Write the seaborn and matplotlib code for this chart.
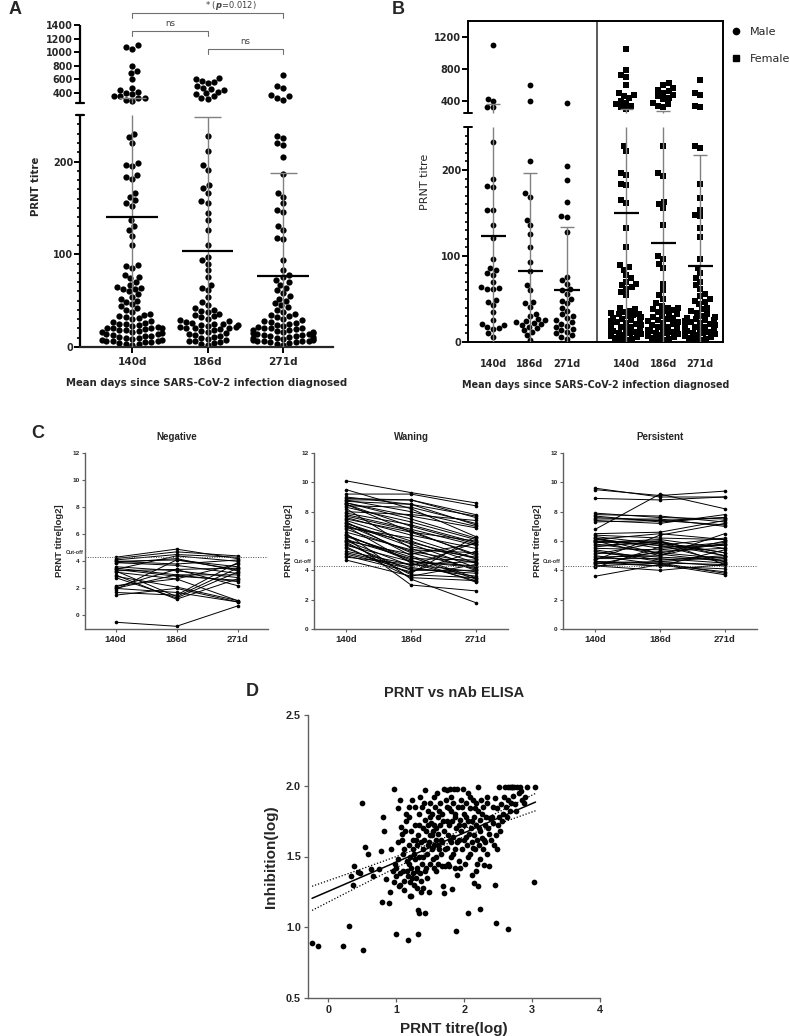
import warnings

import numpy as np
import pandas as pd
import matplotlib
matplotlib.use('Agg')
from matplotlib import pyplot as plt
from matplotlib.lines import Line2D
from matplotlib.ticker import FixedLocator, FormatStrFormatter
from matplotlib.transforms import blended_transform_factory
import seaborn as sns

warnings.filterwarnings('ignore')

days = ['140d', '186d', '271d']

# Panel A: PRNT titres of all participants
a_140 = [1100, 1080, 1050, 800, 720, 690, 600, 480, 450, 420, 400, 380, 360, 350, 330, 320, 300, 280,
         230, 226, 220, 198, 196, 195, 185, 183, 181, 166, 162, 158, 155, 152, 137, 131, 126, 120, 110,
         88, 87, 85, 78, 76, 74, 70, 67, 65, 64, 63, 62, 60, 57, 54, 52, 50, 48, 46, 44, 42, 40, 38,
         36, 35, 33, 32, 31, 30, 28, 27, 26, 25, 25, 24, 23, 22, 21, 20, 20, 20, 19, 18, 18, 17, 16,
         16, 15, 14, 14, 13, 12, 12, 11, 10, 10, 9, 8, 8, 7, 6, 6, 5, 5, 4, 3, 3, 2]
a_186 = [620, 600, 580, 560, 540, 500, 480, 460, 440, 420, 400, 380, 350, 330, 310,
         227, 211, 196, 191, 175, 171, 166, 157, 155, 144, 137, 126, 110, 97, 94, 90, 83, 76, 67, 64,
         61, 54, 49, 45, 42, 40, 39, 38, 36, 35, 33, 32, 30, 29, 28, 27, 26, 25, 25, 24, 24, 23, 22,
         22, 21, 20, 20, 19, 18, 17, 16, 15, 14, 13, 12, 11, 10, 9, 8, 7, 6, 5, 4, 3, 2]
a_271 = [660, 500, 480, 370, 350, 320, 300,
         227, 225, 220, 218, 205, 187, 166, 162, 155, 148, 146, 130, 126, 117, 116, 94, 83, 78, 76,
         72, 70, 67, 64, 61, 58, 55, 52, 50, 47, 45, 43, 40, 38, 36, 35, 33, 32, 30, 29, 28, 27, 26,
         25, 24, 23, 22, 21, 20, 20, 19, 18, 18, 17, 16, 16, 15, 15, 14, 14, 13, 13, 12, 12, 11, 11,
         10, 10, 9, 9, 8, 8, 7, 7, 6, 6, 5, 5, 4, 3, 2]
a_mean = [140, 103, 77]
a_sd_top = [330, 248, 188]

# Panel B: split by sex
b_male_140 = [1100, 430, 400, 330, 320, 232, 189, 181, 180, 154, 153, 136, 121, 97, 86, 84, 80, 78,
              70, 64, 63, 62, 62, 49, 47, 43, 35, 25, 21, 20, 17, 16, 15, 10, 6]
b_male_186 = [600, 400, 211, 173, 169, 142, 136, 125, 111, 93, 82, 66, 60, 47, 45, 41, 33, 30, 27,
              25, 24, 23, 22, 21, 20, 18, 16, 14, 12, 8, 2]
b_male_271 = [380, 205, 188, 163, 147, 145, 128, 76, 72, 68, 62, 60, 56, 50, 48, 45, 39, 36, 32,
              30, 28, 25, 23, 21, 19, 17, 15, 14, 12, 10, 8, 6, 4]
b_female_140 = [1050, 790, 720, 700, 600, 500, 480, 460, 440, 400, 380, 360, 340, 320, 300, 228,
                222, 196, 194, 184, 182, 165, 162, 132, 111, 89, 87, 84, 78, 74, 70, 68, 66, 64, 62,
                58, 55, 40, 38, 36, 35, 34, 33, 32, 31, 30, 29, 28, 27, 26, 25, 24, 23, 22, 21, 20,
                19, 18, 17, 16, 15, 14, 13, 12, 11, 10, 9, 8, 7, 6, 5, 4, 3, 2]
b_female_186 = [620, 600, 560, 540, 520, 500, 480, 460, 440, 420, 380, 360, 340, 320, 228, 196,
                193, 163, 160, 156, 136, 100, 97, 91, 86, 68, 60, 55, 50, 45, 42, 40, 39, 38, 37,
                36, 35, 33, 32, 30, 29, 28, 27, 25, 24, 23, 22, 21, 20, 18, 17, 16, 15, 14, 13, 12,
                11, 10, 9, 8, 7, 6, 5, 4, 3, 2]
b_female_271 = [660, 500, 480, 340, 320, 228, 226, 184, 167, 154, 148, 146, 132, 122, 96, 86, 80,
                74, 70, 66, 62, 56, 53, 50, 48, 46, 44, 40, 38, 36, 34, 32, 30, 29, 28, 27, 26, 25,
                24, 23, 22, 21, 20, 19, 18, 17, 16, 15, 14, 13, 12, 11, 10, 9, 8, 7, 6, 5, 4, 3, 2]
b_male_mean = [123, 82, 61]
b_male_top = [360, 197, 134]
b_female_mean = [150, 115, 88]
b_female_top = [300, 280, 217]

# Panel C: log2 titres per participant
neg_140 = [4.3, 4.2, 4.1, 4.0, 3.9, 3.9, 3.5, 3.4, 3.4, 3.3, 3.2, 3.0, 2.8, 2.2, 2.1, 2.0, 1.9, 1.7,
           1.5, -0.5, 4.0, 3.6, 3.3, 2.9, 2.0]
neg_186 = [4.9, 4.7, 4.5, 4.1, 4.2, 3.7, 3.0, 2.9, 4.4, 3.4, 2.7, 1.2, 1.3, 2.7, 3.4, 1.7, 4.1, 1.5,
           2.0, -0.8, 3.8, 3.3, 1.4, 2.1, 3.0]
neg_271 = [4.2, 4.4, 4.3, 3.6, 3.3, 3.1, 2.5, 2.6, 4.0, 3.5, 1.1, 2.7, 3.2, 3.8, 2.2, 1.0, 3.4, 3.9,
           1.0, 0.7, 4.1, 2.8, 3.5, 1.1, 3.0]
wan_140 = [10.1, 9.5, 9.2, 8.9, 8.8, 8.7, 8.6, 8.5, 8.5, 8.4, 8.2, 8.0, 7.9, 7.7, 7.5, 7.4, 7.3, 7.2,
           7.1, 7.0, 6.9, 6.5, 6.4, 6.3, 6.2, 6.0, 5.9, 5.7, 5.5, 5.3, 5.2, 5.0, 4.7, 8.3, 7.6, 6.1,
           5.8, 7.2, 8.8, 6.6, 9.0, 8.6, 7.8, 7.0, 6.8, 6.4, 6.0, 5.6, 5.1, 4.9]
wan_186 = [9.3, 8.2, 9.2, 8.8, 8.0, 8.5, 7.5, 7.0, 6.6, 8.3, 5.5, 7.8, 7.1, 6.7, 6.6, 6.0, 5.0, 5.8,
           5.2, 4.5, 6.2, 3.4, 4.7, 4.9, 3.0, 4.3, 3.7, 4.6, 3.8, 4.4, 4.2, 3.9, 3.6, 7.3, 6.4, 4.8,
           4.0, 5.6, 8.8, 5.4, 8.5, 7.7, 6.8, 5.9, 5.3, 4.6, 5.1, 3.5, 4.1, 4.4]
wan_271 = [8.6, 6.3, 8.4, 7.6, 7.0, 7.7, 6.2, 5.8, 5.1, 7.2, 4.0, 7.4, 5.9, 5.0, 6.0, 4.5, 3.5, 4.2,
           4.1, 3.3, 4.8, 1.8, 3.2, 3.4, 2.6, 5.9, 3.5, 4.3, 6.3, 3.9, 3.6, 5.3, 4.4, 6.1, 5.5, 4.7,
           4.0, 4.9, 7.8, 5.2, 7.1, 6.9, 5.7, 4.8, 4.5, 4.2, 5.8, 3.3, 3.8, 4.6]
per_140 = [9.6, 9.5, 8.9, 7.8, 7.7, 7.6, 7.5, 7.4, 6.8, 6.5, 6.3, 6.2, 6.1, 6.0, 5.9, 5.8, 5.6, 5.5,
           5.3, 5.1, 5.0, 4.9, 4.8, 4.7, 4.6, 4.5, 4.4, 4.3, 4.2, 3.6, 6.2, 5.4, 4.6, 6.0,
           7.9, 6.4, 5.7, 5.2, 4.8, 4.5, 6.1, 5.9, 4.3, 7.3]
per_186 = [9.0, 9.1, 8.8, 7.7, 7.3, 7.4, 7.5, 7.2, 9.2, 6.6, 5.8, 5.5, 6.5, 5.7, 6.1, 5.2, 6.0, 5.4,
           4.6, 5.9, 4.4, 5.0, 4.8, 6.4, 4.5, 4.6, 5.3, 4.0, 5.6, 4.4, 5.1, 4.7, 4.3, 5.0,
           7.6, 6.2, 5.9, 4.9, 5.2, 4.3, 5.7, 6.0, 4.5, 7.4]
per_271 = [9.0, 9.4, 9.0, 7.3, 7.6, 7.1, 7.0, 7.8, 8.2, 7.4, 5.0, 5.9, 6.1, 4.6, 5.5, 4.8, 4.4, 5.8,
           4.3, 5.2, 3.9, 6.5, 4.5, 7.2, 3.8, 4.9, 5.5, 4.4, 5.7, 3.7, 4.6, 5.0, 5.4, 6.0,
           7.5, 6.1, 5.2, 4.7, 5.8, 4.1, 6.2, 5.0, 4.4, 7.6]
cutoff = 4.3

# Panel D: PRNT titre (log) vs inhibition (log)
d_pairs = [
    (-0.24, 0.89), (-0.16, 0.87), (0.21, 0.87), (0.30, 1.01), (0.51, 0.84), (0.49, 1.88), (0.54, 1.57),
    (0.59, 1.52), (0.63, 1.41), (0.65, 1.36), (0.33, 1.36), (0.36, 1.30), (0.38, 1.43), (0.43, 1.39),
    (0.46, 1.38), (0.75, 1.41), (0.80, 1.78), (0.82, 1.68), (0.78, 1.54), (0.79, 1.18), (0.85, 1.34),
    (0.90, 1.17), (0.91, 1.25), (0.96, 1.98), (0.99, 0.95), (1.17, 0.91), (1.32, 0.95), (1.33, 1.10),
    (1.42, 1.10), (1.20, 1.22), (2.23, 1.13), (2.06, 1.10), (1.88, 0.97), (2.45, 1.30), (2.47, 1.03),
    (2.65, 0.99), (3.03, 1.32), (3.05, 1.99),
    (0.92, 1.55), (0.95, 1.40), (0.97, 1.32), (0.98, 1.45), (1.00, 1.42), (1.00, 1.36), (1.02, 1.48),
    (1.02, 1.84), (1.04, 1.29), (1.05, 1.90), (1.05, 1.38), (1.07, 1.71), (1.08, 1.62), (1.09, 1.66),
    (1.10, 1.40), (1.10, 1.52), (1.12, 1.33), (1.12, 1.26),
    (1.14, 1.80), (1.15, 1.75), (1.16, 1.47), (1.17, 1.36), (1.18, 1.78), (1.18, 1.58), (1.19, 1.45),
    (1.20, 1.32), (1.20, 1.50), (1.21, 1.22), (1.22, 1.68), (1.22, 1.42), (1.23, 1.90), (1.24, 1.55),
    (1.25, 1.38), (1.25, 1.62), (1.26, 1.30), (1.27, 1.85), (1.28, 1.48), (1.28, 1.72), (1.29, 1.35),
    (1.30, 1.58), (1.30, 1.42), (1.31, 1.28), (1.32, 1.65), (1.32, 1.12),
    (1.33, 1.80), (1.34, 1.50), (1.35, 1.38), (1.35, 1.92), (1.36, 1.60), (1.37, 1.33), (1.38, 1.45),
    (1.38, 1.85), (1.39, 1.70), (1.40, 1.55), (1.40, 1.28), (1.41, 1.62), (1.42, 1.40), (1.42, 1.76),
    (1.43, 1.97), (1.44, 1.68), (1.45, 1.52), (1.45, 1.35), (1.46, 1.82), (1.47, 1.72), (1.48, 1.25),
    (1.48, 1.60), (1.49, 1.45), (1.50, 1.65), (1.50, 1.88),
    (1.51, 1.74), (1.52, 1.55), (1.53, 1.80), (1.54, 1.68), (1.55, 1.42), (1.55, 1.92), (1.56, 1.58),
    (1.57, 1.85), (1.58, 1.70), (1.58, 1.50), (1.59, 1.62), (1.60, 1.95), (1.61, 1.78), (1.62, 1.45),
    (1.62, 1.66), (1.63, 1.55), (1.64, 1.88), (1.65, 1.72), (1.66, 1.52), (1.67, 1.43), (1.68, 1.80),
    (1.68, 1.60), (1.69, 1.29), (1.70, 1.98), (1.70, 1.24),
    (1.71, 1.68), (1.72, 1.43), (1.73, 1.90), (1.74, 1.75), (1.75, 1.56), (1.75, 1.97), (1.76, 1.65),
    (1.77, 1.84), (1.78, 1.43), (1.78, 1.72), (1.79, 1.98), (1.80, 1.60), (1.80, 1.82), (1.81, 1.50),
    (1.82, 1.75), (1.82, 1.27), (1.83, 1.88), (1.84, 1.64), (1.85, 1.98), (1.86, 1.42), (1.86, 1.78),
    (1.87, 1.55), (1.88, 1.70), (1.89, 1.37), (1.90, 1.98),
    (1.91, 1.85), (1.92, 1.62), (1.93, 1.47), (1.94, 1.76), (1.95, 1.90), (1.96, 1.68), (1.97, 1.55),
    (1.98, 1.98), (1.99, 1.80), (2.00, 1.72), (2.01, 1.45), (2.02, 1.64), (2.03, 1.88), (2.04, 1.58),
    (2.05, 1.75), (2.06, 1.95), (2.07, 1.66), (2.08, 1.52), (2.09, 1.84), (2.10, 1.70),
    (2.11, 1.60), (2.12, 1.37), (2.13, 1.90), (2.14, 1.78), (2.14, 1.31), (2.15, 1.65), (2.16, 1.55),
    (2.17, 1.88), (2.17, 1.40), (2.18, 1.72), (2.19, 1.62), (2.20, 1.99), (2.20, 1.29), (2.21, 1.82),
    (2.22, 1.58), (2.23, 1.68), (2.24, 1.76), (2.24, 1.48), (2.25, 1.90), (2.26, 1.63), (2.27, 1.55),
    (2.28, 1.85), (2.29, 1.44), (2.30, 1.72),
    (2.31, 1.60), (2.32, 1.78), (2.33, 1.52), (2.34, 1.88), (2.35, 1.70), (2.36, 1.43), (2.38, 1.77),
    (2.40, 1.62), (2.42, 1.85), (2.43, 1.74), (2.45, 1.91), (2.47, 1.65), (2.48, 1.55), (2.50, 1.72),
    (2.51, 1.99), (2.52, 1.78), (2.54, 1.87), (2.55, 1.75), (2.57, 1.80),
    (2.60, 1.99), (2.62, 1.85), (2.64, 1.99), (2.65, 1.90), (2.67, 1.99), (2.68, 1.82), (2.70, 1.99),
    (2.72, 1.93), (2.74, 1.99), (2.75, 1.87), (2.78, 1.99), (2.80, 1.95), (2.82, 1.99), (2.85, 1.90),
    (2.88, 1.88), (2.90, 1.92),
    (1.03, 1.60), (1.06, 1.30), (1.11, 1.55), (1.13, 1.68), (1.16, 1.40), (1.19, 1.85), (1.23, 1.35),
    (1.26, 1.52), (1.29, 1.62), (1.31, 1.40), (1.34, 1.72), (1.36, 1.25), (1.39, 1.50), (1.41, 1.88),
    (1.44, 1.42), (1.46, 1.58), (1.49, 1.78), (1.52, 1.65), (1.54, 1.48), (1.56, 1.72), (1.59, 1.40),
    (1.61, 1.58), (1.63, 1.82), (1.66, 1.62), (1.69, 1.75), (1.72, 1.55), (1.74, 1.85), (1.76, 1.45),
    (1.79, 1.62), (1.81, 1.92), (1.84, 1.52), (1.87, 1.80), (1.89, 1.60), (1.92, 1.72), (1.94, 1.42),
    (1.97, 1.85), (1.99, 1.62), (2.02, 1.78), (2.05, 1.50), (2.08, 1.92), (2.11, 1.75), (2.13, 1.56),
    (2.16, 1.84), (2.19, 1.45), (2.22, 1.70), (2.26, 1.80), (2.29, 1.62), (2.33, 1.92), (2.37, 1.66),
    (2.41, 1.78), (2.44, 1.58), (2.49, 1.84), (2.53, 1.68), (2.58, 1.92), (2.63, 1.78), (2.69, 1.88),
    (2.76, 1.82), (2.84, 1.96), (2.93, 1.99), (2.71, 1.99),
]

sns.set_theme(style='ticks')
plt.rcParams['font.family'] = ['DejaVu Sans']
plt.rcParams['font.weight'] = 'bold'
plt.rcParams['axes.labelweight'] = 'bold'
plt.rcParams['axes.titleweight'] = 'bold'
plt.rcParams['mathtext.default'] = 'it'
ARIAL = ['Liberation Sans', 'DejaVu Sans']

W, H = 790, 1036
fig = plt.figure(figsize=(W / 100, H / 100), dpi=100)


def box(l, t, r, b):
    return [l / W, 1 - b / H, (r - l) / W, (b - t) / H]


def broken_scale(top, gap, k):
    def fwd(y):
        y = np.asarray(y, dtype=float)
        return np.where(y <= top, y, top + gap + (y - top) * k)

    def inv(u):
        u = np.asarray(u, dtype=float)
        return np.where(u <= top, u, top + np.maximum(u - top - gap, 0) / k)
    return fwd, inv


def broken_spine(ax, top, ymax, lw, cap=0.016):
    ax.spines['left'].set_visible(False)
    tr = ax.get_yaxis_transform()
    for y0, y1 in [(0, top), (top + 1e-3, ymax)]:
        ax.plot([0, 0], [y0, y1], transform=tr, color='black', lw=lw, clip_on=False,
                solid_capstyle='butt')
    for y in [top, top + 1e-3]:
        ax.plot([-cap, cap], [y, y], transform=tr, color='black', lw=lw, clip_on=False)


def mean_sd(ax, xs, means, tops, top=250, half_mean=0.34, half_cap=0.18):
    for x, m, t in zip(xs, means, tops):
        ax.vlines(x, 0, min(t, top), color='#808080', lw=1, zorder=3)
        if t > top:
            ax.vlines(x, top + 1e-3, t, color='#808080', lw=1, zorder=3)
        ax.hlines(t, x - half_cap, x + half_cap, color='#808080', lw=1, zorder=3)
        ax.hlines(m, x - half_mean, x + half_mean, color='black', lw=1.6, zorder=4)


def set_minor(ax, top):
    ax.yaxis.set_minor_locator(FixedLocator([v for v in range(10, top + 1, 10) if v % 100]))


# ---------------- Panel A ----------------
axA = fig.add_axes(box(80, 25, 333, 347))
axA.set_yscale('function', functions=broken_scale(250, 12.9, 0.0733))
axA.set_ylim(0, 1400)
dfA = pd.DataFrame({'day': np.repeat(days, [len(a_140), len(a_186), len(a_271)]),
                    'titre': a_140 + a_186 + a_271})
sns.swarmplot(data=dfA, x='day', y='titre', order=days, color='black', size=4.5,
              linewidth=0, ax=axA, zorder=2)
mean_sd(axA, [0, 1, 2], a_mean, a_sd_top)
axA.set_ylim(0, 1400)
axA.set_xlim(-0.69, 2.66)
axA.set_yticks([0, 100, 200, 400, 600, 800, 1000, 1200, 1400])
set_minor(axA, 250)
sns.despine(ax=axA)
axA.spines['bottom'].set_linewidth(1.6)
broken_spine(axA, 250, 1400, 1.6)
axA.tick_params(axis='y', which='major', length=4, width=1.4, pad=1, labelsize=6.9, color='black')
axA.tick_params(axis='y', which='minor', length=2.5, width=1.2, color='black')
axA.tick_params(axis='x', length=4, width=1.4, pad=3, labelsize=7.6, color='black')
axA.set_ylabel('PRNT titre', fontsize=7.3, labelpad=4)
axA.set_xlabel('Mean days since SARS-CoV-2 infection diagnosed', fontsize=7.3, labelpad=8)

trA = blended_transform_factory(axA.transData, fig.transFigure)
for x0, x1, ypx in [(0, 2, 13), (0, 1, 31), (1, 2, 49)]:
    y, yt = 1 - ypx / H, 1 - (ypx + 5) / H
    axA.plot([x0, x0, x1, x1], [yt, y, y, yt], transform=trA, color='#707070', lw=0.8,
             clip_on=False)
axA.text(0.97, 1 - 6 / H, '* ($p$=0.012)', transform=trA, ha='left', va='center', fontsize=6,
         color='#404040', fontweight='normal')
axA.text(0.5, 1 - 23 / H, 'ns', transform=trA, ha='center', va='center', fontsize=6.2,
         color='#404040', fontweight='normal')
axA.text(1.5, 1 - 42 / H, 'ns', transform=trA, ha='center', va='center', fontsize=6.2,
         color='#404040', fontweight='normal')

# ---------------- Panel B ----------------
axB = fig.add_axes(box(468, 21, 723, 342))
axB.set_yscale('function', functions=broken_scale(250, 16.3, 0.093))
axB.set_ylim(0, 1400)
pos_m = [0, 1, 2]
pos_f = [3.6, 4.6, 5.6]
male = [b_male_140, b_male_186, b_male_271]
female = [b_female_140, b_female_186, b_female_271]
dfM = pd.DataFrame({'x': np.repeat(pos_m, [len(v) for v in male]), 'titre': sum(male, [])})
dfF = pd.DataFrame({'x': np.repeat(pos_f, [len(v) for v in female]), 'titre': sum(female, [])})
sns.swarmplot(data=dfM, x='x', y='titre', native_scale=True, orient='x', color='black',
              size=4.2, linewidth=0, ax=axB, zorder=2)
sns.swarmplot(data=dfF, x='x', y='titre', native_scale=True, orient='x', color='black',
              size=4.0, marker='s', linewidth=0, ax=axB, zorder=2)
mean_sd(axB, pos_m, b_male_mean, b_male_top)
mean_sd(axB, pos_f, b_female_mean, b_female_top)
axB.axvline(2.8, color='#404040', lw=1.2)
axB.set_ylim(0, 1400)
axB.set_xlim(-0.68, 6.22)
axB.set_xticks(pos_m + pos_f)
axB.set_xticklabels(days + days)
axB.set_yticks([0, 100, 200, 400, 800, 1200])
set_minor(axB, 250)
for side in ['top', 'right', 'bottom']:
    axB.spines[side].set_linewidth(1.4)
    axB.spines[side].set_color('black')
broken_spine(axB, 250, 1400, 1.4)
axB.tick_params(axis='y', which='major', length=4, width=1.4, pad=1, labelsize=7, color='black')
axB.tick_params(axis='y', which='minor', length=2.5, width=1.2, color='black')
axB.tick_params(axis='x', length=0, pad=12, labelsize=7)
axB.set_ylabel('PRNT titre', fontsize=8, fontweight='normal', labelpad=3)
axB.set_xlabel('Mean days since SARS-CoV-2 infection diagnosed', fontsize=6.9, labelpad=8)
handles = [Line2D([], [], ls='', marker='o', color='black', ms=4.5),
           Line2D([], [], ls='', marker='s', color='black', ms=4.2)]
fig.legend(handles, ['Male', 'Female'], loc='upper left',
           bbox_to_anchor=(732 / W, 1 - 27 / H), frameon=False, handlelength=0.8,
           handletextpad=0.8, borderpad=0, borderaxespad=0, labelspacing=1.55,
           prop={'size': 8, 'weight': 'normal'})

# ---------------- Panel C ----------------
groups = [('Negative', neg_140, neg_186, neg_271, (-1, 12), (85, 268)),
          ('Waning', wan_140, wan_186, wan_271, (0, 12), (314, 508)),
          ('Persistent', per_140, per_186, per_271, (0, 12), (563, 757))]
for title, v1, v2, v3, ylim, (l, r) in groups:
    ax = fig.add_axes(box(l, 453, r, 629))
    n = len(v1)
    df = pd.DataFrame({'id': np.tile(np.arange(n), 3), 'day': np.repeat(days, n),
                       'titre': v1 + v2 + v3})
    sns.lineplot(data=df, x='day', y='titre', units='id', estimator=None, sort=False,
                 color='black', lw=0.7, marker='o', markersize=2.6, markeredgewidth=0,
                 legend=False, ax=ax)
    ax.axhline(cutoff, ls=(0, (1, 1.5)), color='#505050', lw=0.7)
    ax.text(-0.01, cutoff + 0.15, 'Cut-off', transform=ax.get_yaxis_transform(), ha='right',
            va='bottom', fontsize=3.9, family=ARIAL, color='#303030')
    ax.set_xlim(-0.5, 2.5)
    ax.set_ylim(*ylim)
    ax.set_yticks(range(0, 13, 2))
    sns.despine(ax=ax)
    for s in ['left', 'bottom']:
        ax.spines[s].set_color('#606060')
        ax.spines[s].set_linewidth(1)
    ax.tick_params(axis='both', length=2.5, width=0.8, color='#606060', pad=1.5)
    ax.tick_params(axis='y', labelsize=4.6)
    ax.tick_params(axis='x', labelsize=6.8)
    for lbl in ax.get_xticklabels() + ax.get_yticklabels():
        lbl.set_fontfamily(ARIAL)
    ax.set_title(title, fontsize=7, family=ARIAL, pad=9)
    ax.set_ylabel('PRNT titre[log2]', fontsize=6.8, family=ARIAL, labelpad=6)
    ax.set_xlabel('')

# ---------------- Panel D ----------------
axD = fig.add_axes(box(308, 715, 600, 998))
d_x, d_y = np.array(d_pairs).T
sns.scatterplot(x=d_x, y=d_y, color='black', s=17, linewidth=0, ax=axD, zorder=2)
slope, intercept = np.polyfit(d_x, d_y, 1)
xs = np.linspace(d_x.min(), d_x.max(), 100)
yhat = intercept + slope * xs
resid = d_y - (intercept + slope * d_x)
s = np.sqrt(np.sum(resid ** 2) / (len(d_x) - 2))
se = s * np.sqrt(1 / len(d_x) + (xs - d_x.mean()) ** 2 / np.sum((d_x - d_x.mean()) ** 2))
axD.plot(xs, yhat, color='black', lw=1.1, zorder=3)
axD.plot(xs, yhat + 1.97 * se, color='black', lw=0.9, ls=(0, (1, 1.5)), zorder=3)
axD.plot(xs, yhat - 1.97 * se, color='black', lw=0.9, ls=(0, (1, 1.5)), zorder=3)
axD.set_xlim(-0.3, 4)
axD.set_ylim(0.5, 2.5)
axD.set_xticks([0, 1, 2, 3, 4])
axD.set_yticks([0.5, 1.0, 1.5, 2.0, 2.5])
axD.yaxis.set_major_formatter(FormatStrFormatter('%.1f'))
sns.despine(ax=axD)
for s_ in ['left', 'bottom']:
    axD.spines[s_].set_color('#606060')
    axD.spines[s_].set_linewidth(1)
axD.tick_params(axis='both', length=3, width=0.9, color='#606060', pad=2, labelsize=7.8)
for lbl in axD.get_xticklabels() + axD.get_yticklabels():
    lbl.set_fontfamily(ARIAL)
axD.set_title('PRNT vs nAb ELISA', fontsize=10.5, family=ARIAL, pad=13)
axD.set_xlabel('PRNT titre(log)', fontsize=11, family=ARIAL, labelpad=5)
axD.set_ylabel('Inhibition(log)', fontsize=11, family=ARIAL, labelpad=6)

# panel letters
for letter, x, y in [('A', 15, 10), ('B', 398, 9), ('C', 38, 433), ('D', 252, 692)]:
    fig.text(x / W, 1 - y / H, letter, ha='center', va='center', fontsize=13,
             family=ARIAL, fontweight='bold')

fig.savefig('out.png', dpi=100)
